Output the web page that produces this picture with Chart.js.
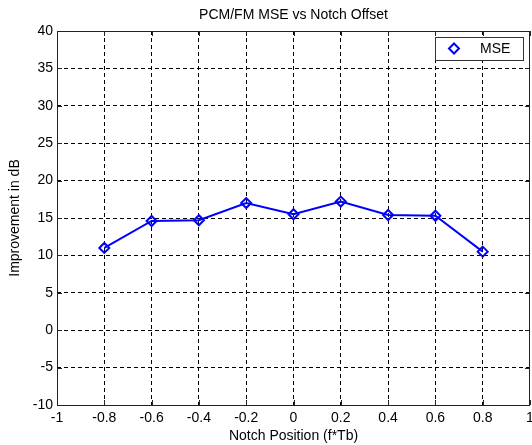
<!DOCTYPE html>
<html><head><meta charset="utf-8">
<script src="https://cdn.jsdelivr.net/npm/chart.js@4.4.0/dist/chart.umd.min.js"></script>
<style>html,body{margin:0;padding:0;background:#fff}#wrap{width:532px;height:445px}</style>
</head><body><div id="wrap"><canvas id="c" width="532" height="445"></canvas></div>
<script>
const chartTitle = 'PCM/FM MSE vs Notch Offset';
const xLabel = 'Notch Position (f*Tb)';
const yLabel = 'Improvement in dB';
const seriesName = 'MSE';
const notchPositions = [-0.8, -0.6, -0.4, -0.2, 0, 0.2, 0.4, 0.6, 0.8];
const mseValues = [11.0, 14.6, 14.7, 17.0, 15.5, 17.2, 15.4, 15.3, 10.5];
const xTicks = [-1, -0.8, -0.6, -0.4, -0.2, 0, 0.2, 0.4, 0.6, 0.8, 1];
const yTicks = [-10, -5, 0, 5, 10, 15, 20, 25, 30, 35, 40];

const FONT = 'Arial, "Liberation Sans", sans-serif';
const edgeColor = (vals) => (ctx) => {
  const v = ctx.tick ? ctx.tick.value : null;
  return (v === vals[0] || v === vals[vals.length - 1]) ? 'rgba(0,0,0,0)' : '#000';
};

const matlabFrame = {
  id: 'matlabFrame',
  afterDraw(chart) {
    const {ctx, chartArea: a, scales: {x, y}} = chart;
    ctx.save();
    ctx.strokeStyle = '#222';
    ctx.lineWidth = 1;
    ctx.setLineDash([]);
    ctx.strokeRect(a.left + 0.5, a.top + 0.5, a.right - a.left - 1, a.bottom - a.top);
    const tl = 5;
    ctx.beginPath();
    xTicks.forEach(v => {
      const px = Math.round(x.getPixelForValue(v)) + 0.5;
      ctx.moveTo(px, a.top); ctx.lineTo(px, a.top + tl);
      ctx.moveTo(px, a.bottom); ctx.lineTo(px, a.bottom - tl);
    });
    yTicks.forEach(v => {
      const py = Math.round(y.getPixelForValue(v)) + 0.5;
      ctx.moveTo(a.left, py); ctx.lineTo(a.left + tl, py);
      ctx.moveTo(a.right, py); ctx.lineTo(a.right - tl, py);
    });
    ctx.stroke();
    ctx.fillStyle = '#000';
    ctx.font = '14px ' + FONT;
    ctx.textAlign = 'center';
    ctx.textBaseline = 'middle';
    ctx.fillText(chartTitle, (a.left + a.right) / 2, 15);
    const lx = 435, ly = 37, lw = 88, lh = 23;
    ctx.fillStyle = '#fff';
    ctx.fillRect(lx, ly, lw, lh);
    ctx.strokeStyle = '#333';
    ctx.strokeRect(lx + 0.5, ly + 0.5, lw, lh);
    ctx.strokeStyle = '#0000ff';
    ctx.lineWidth = 2;
    ctx.beginPath();
    ctx.moveTo(454, 43.5); ctx.lineTo(459, 48.5); ctx.lineTo(454, 53.5); ctx.lineTo(449, 48.5); ctx.closePath();
    ctx.stroke();
    ctx.fillStyle = '#000';
    ctx.textAlign = 'left';
    ctx.fillText(seriesName, 480, 49);
    ctx.restore();
  }
};

new Chart(document.getElementById('c'), {
  type: 'line',
  data: {
    datasets: [{
      label: seriesName,
      data: notchPositions.map((p, i) => ({x: p, y: mseValues[i]})),
      borderColor: '#0000ff',
      borderWidth: 2,
      pointStyle: 'rectRot',
      pointRadius: 5,
      pointBorderWidth: 2,
      pointBorderColor: '#0000ff',
      pointBackgroundColor: 'rgba(0,0,0,0)',
      tension: 0,
      fill: false
    }]
  },
  options: {
    responsive: false,
    devicePixelRatio: 1,
    animation: false,
    layout: {autoPadding: false, padding: {top: 31, right: 2, left: 0, bottom: 0}},
    plugins: {legend: {display: false}, tooltip: {enabled: false}, title: {display: false}},
    scales: {
      x: {
        type: 'linear', min: -1, max: 1,
        afterBuildTicks: s => { s.ticks = xTicks.map(v => ({value: v})); },
        afterFit: s => { s.height = 40; s.paddingLeft = 0; s.paddingRight = 0; },
        ticks: {color: '#000', font: {size: 14, family: FONT}, padding: 5, maxRotation: 0, autoSkip: false,
                callback: v => String(v)},
        grid: {color: edgeColor(xTicks), drawTicks: false, lineWidth: 1},
        border: {display: false, dash: [4, 3]},
        title: {display: true, text: xLabel, color: '#000', font: {size: 14, family: FONT}, padding: {top: 0, bottom: 0}}
      },
      y: {
        type: 'linear', min: -10, max: 40,
        afterBuildTicks: s => { s.ticks = yTicks.map(v => ({value: v})); },
        afterFit: s => { s.width = 57; s.paddingTop = 0; s.paddingBottom = 0; },
        ticks: {color: '#000', font: {size: 14, family: FONT}, padding: 4, autoSkip: false,
                callback: v => String(v)},
        grid: {color: edgeColor(yTicks), drawTicks: false, lineWidth: 1},
        border: {display: false, dash: [4, 3]},
        title: {display: true, text: yLabel, color: '#000', font: {size: 14, family: FONT}, padding: {top: 7, bottom: 0}}
      }
    }
  },
  plugins: [matlabFrame]
});
</script></body></html>
